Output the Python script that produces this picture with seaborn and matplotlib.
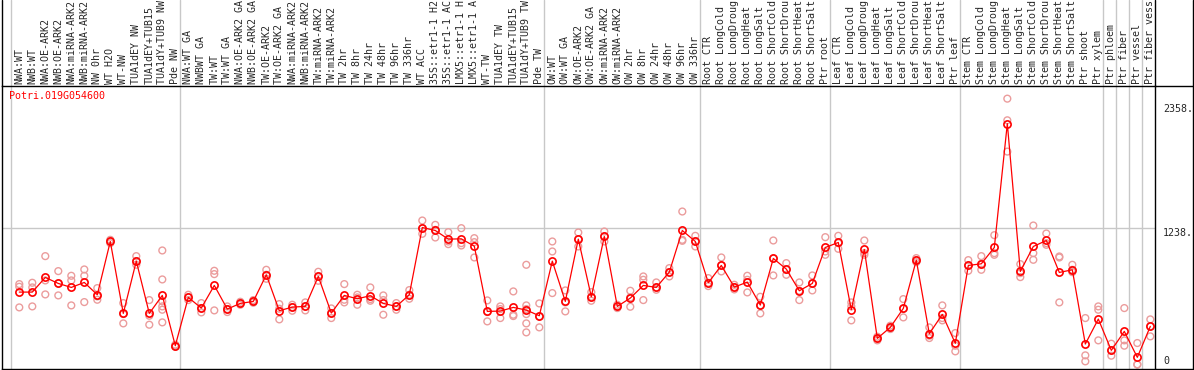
"""
Expression profile chart for one poplar gene across sample groups
"""

import matplotlib
matplotlib.use("Agg")
import matplotlib.pyplot as plt
import matplotlib.transforms as mtransforms
from matplotlib.lines import Line2D
import pandas as pd
import seaborn as sns

GENE = "Potri.019G054600"

SAMPLES = [
    "NWA:WT", "NWB:WT", "NWA:OE-ARK2", "NWB:OE-ARK2", "NWA:miRNA-ARK2",
    "NWB:miRNA-ARK2", "NW 0hr", "WT H2O", "WT-NW", "TUA1dEY NW",
    "TUA1dEY+TUB15", "TUA1dY+TUB9 NW", "Pde NW", "NWA:WT GA", "NWBWT GA",
    "TW:WT", "TW:WT GA", "NWA:OE-ARK2 GA", "NWB:OE-ARK2 GA", "TW:OE-ARK2",
    "TW:OE-ARK2 GA", "NWA:miRNA-ARK2", "NWB:miRNA-ARK2", "TW:miRNA-ARK2",
    "TW:miRNA-ARK2", "TW 2hr", "TW 8hr", "TW 24hr", "TW 48hr", "TW 96hr",
    "TW 336hr", "WT ACC", "35S::etr1-1 H2", "35S::etr1-1 AC", "LMX5::etr1-1 H",
    "LMX5::etr1-1 A", "WT-TW", "TUA1dEY TW", "TUA1dEY+TUB15", "TUA1dY+TUB9 TW",
    "Pde TW", "OW:WT", "OW:WT GA", "OW:OE-ARK2", "OW:OE-ARK2 GA",
    "OW:miRNA-ARK2", "OW:miRNA-ARK2", "OW 2hr", "OW 8hr", "OW 24hr",
    "OW 48hr", "OW 96hr", "OW 336hr", "Root CTR", "Root LongCold",
    "Root LongDroug", "Root LongHeat", "Root LongSalt", "Root ShortCold",
    "Root ShortDrou", "Root ShortHeat", "Root ShortSalt", "Ptr root",
    "Leaf CTR", "Leaf LongCold", "Leaf LongDroug", "Leaf LongHeat",
    "Leaf LongSalt", "Leaf ShortCold", "Leaf ShortDrou", "Leaf ShortHeat",
    "Leaf ShortSalt", "Ptr leaf", "Stem CTR", "Stem LongCold",
    "Stem LongDroug", "Stem LongHeat", "Stem LongSalt", "Stem ShortCold",
    "Stem ShortDrou", "Stem ShortHeat", "Stem ShortSalt", "Ptr shoot",
    "Ptr xylem", "Ptr phloem", "Ptr fiber", "Ptr vessel", "Ptr fiber vess",
]

MEANS = [
    663, 663, 795, 741, 705, 750, 639, 1119, 471, 942,
    471, 633, 180, 615, 519, 723, 510, 561, 579, 819,
    495, 528, 534, 804, 474, 633, 603, 630, 561, 534,
    639, 1245, 1218, 1140, 1143, 1077, 489, 492, 525, 501,
    450, 942, 579, 1140, 621, 1164, 534, 609, 723, 705,
    843, 1218, 1119, 747, 903, 708, 753, 546, 966, 870,
    675, 741, 1065, 1110, 504, 1047, 246, 345, 516, 951,
    288, 462, 201, 903, 918, 1065, 2181, 849, 1074, 1128,
    840, 864, 195, 420, 138, 309, 75, 354,
]

REPLICATES = [
    [735, 711, 525], [747, 705, 534], [987, 768, 642], [852, 741, 633],
    [810, 768, 543], [867, 810, 573], [699, 624, 594], [1134, 1119, 1104],
    [564, 465, 381], [987, 942, 909], [591, 450, 369],
    [1038, 777, 579, 534, 504, 390], [189, 180, 171], [639, 615, 591],
    [564, 519, 480], [855, 825, 498], [534, 510, 483], [576, 561, 549],
    [591, 579, 567], [864, 819, 783], [555, 513, 417], [549, 528, 495],
    [570, 534, 498], [846, 804, 765], [516, 474, 429], [735, 594, 570],
    [639, 615, 549], [705, 600, 585], [633, 591, 459], [564, 534, 504],
    [681, 639, 603], [1308, 1239, 1188], [1269, 1224, 1155],
    [1203, 1119, 1095], [1239, 1104, 1083], [1149, 1113, 975],
    [588, 483, 399], [534, 510, 429], [669, 459, 447],
    [909, 543, 510, 465, 381, 300], [561, 444, 345], [1119, 1029, 654],
    [678, 570, 489], [1200, 1140, 1074], [663, 621, 585],
    [1209, 1164, 1119], [549, 534, 519], [675, 615, 531], [804, 774, 591],
    [750, 705, 684], [879, 843, 804], [1389, 1134, 1125],
    [1170, 1119, 1074], [789, 747, 717], [975, 903, 849], [729, 708, 687],
    [810, 774, 660], [621, 543, 471], [1128, 966, 813], [924, 864, 819],
    [750, 675, 591], [813, 741, 678], [1158, 1029, 999], [1170, 1104, 1053],
    [570, 534, 408], [1128, 1014, 999], [261, 246, 228], [360, 345, 330],
    [600, 513, 435], [969, 951, 933], [345, 270, 249], [543, 429, 408],
    [294, 180, 129], [951, 903, 855], [987, 918, 864], [1176, 1014, 999],
    [2406, 2211, 1929], [915, 834, 798], [1263, 1014, 954],
    [1191, 1104, 1089], [984, 975, 570], [909, 864, 843], [429, 93, 39],
    [534, 504, 228], [198, 138, 90], [519, 228, 180], [204, 12, 10],
    [417, 354, 264],
]

# first sample of each experiment block (gray separators)
GROUP_STARTS = [0, 13, 41, 53, 63, 73, 84, 85, 86, 87]
GRID_VALUE = 1238
TICK_VALUES = [2358, 1238, 0]
TICK_LABELS = ["2358.", "1238.", "0"]

RED = "#ff0000"
PINK = "#eb9c9c"
GRAY = "#c8c8c8"

sns.set_style("white")
plt.rcParams["font.family"] = ["DejaVu Sans Mono"]

W, H = 1194, 370
fig = plt.figure(figsize=(W / 100, H / 100), dpi=100)
# plot box: x 2..1155 px, y 86..369 px (from top)
ax = fig.add_axes([2 / W, 1 / H, 1153 / W, 283 / H])

rep_df = pd.DataFrame(
    [(i, v) for i, reps in enumerate(REPLICATES) for v in reps],
    columns=["sample", "expr"],
)
mean_df = pd.DataFrame({"sample": range(len(MEANS)), "expr": MEANS})

ax.axhline(GRID_VALUE, color=GRAY, lw=1, zorder=0)
for g in GROUP_STARTS:
    ax.axvline(g - 0.64, ymin=0, ymax=369 / 283, color=GRAY, lw=1,
               clip_on=False, zorder=0)

sns.scatterplot(data=rep_df, x="sample", y="expr", ax=ax, marker="o", s=24,
                facecolor="none", edgecolor=PINK, linewidth=1.0, zorder=2,
                legend=False)
sns.lineplot(data=mean_df, x="sample", y="expr", ax=ax, color=RED, lw=0.9,
             marker="o", markersize=5.2, markerfacecolor="none",
             markeredgecolor=RED, markeredgewidth=1.2, zorder=3, legend=False)

ax.set_xlim(-1.33, 87.36)
ax.set_ylim(-30, 2520)
ax.set_xticks([])
ax.set_yticks([])
ax.set_xlabel("")
ax.set_ylabel("")
for s in ax.spines.values():
    s.set_visible(True)
    s.set_color("black")
    s.set_linewidth(1)

# sample names above the plot
trans = mtransforms.blended_transform_factory(ax.transData, ax.transAxes)
for i, name in enumerate(SAMPLES):
    ax.text(i, 1 + 2 / 283, name, transform=trans, rotation=90,
            ha="center", va="bottom", fontsize=7.2, clip_on=False)

# value labels on the right
trans_r = mtransforms.blended_transform_factory(ax.transAxes, ax.transData)
for v, lab in zip(TICK_VALUES, TICK_LABELS):
    ax.text(1 + 8 / 1153, v, lab, transform=trans_r, fontsize=7.2,
            ha="left", va="top" if v > 0 else "bottom", clip_on=False)

ax.text(7 / 1153, 1 - 5 / 283, GENE, transform=ax.transAxes, color=RED,
        fontsize=7.2, ha="left", va="top")


def px_line(x0, y0, x1, y1):
    fig.add_artist(Line2D([x0 / W, x1 / W], [1 - y0 / H, 1 - y1 / H],
                          color="black", lw=1))


px_line(2, 0, 2, 86)
px_line(1155, 0, 1155, 86)
px_line(1155, 86, 1193, 86)
px_line(1155, 369, 1193, 369)
px_line(1193, 0, 1193, 369)

fig.savefig("out.png", dpi=100)
plt.close(fig)
